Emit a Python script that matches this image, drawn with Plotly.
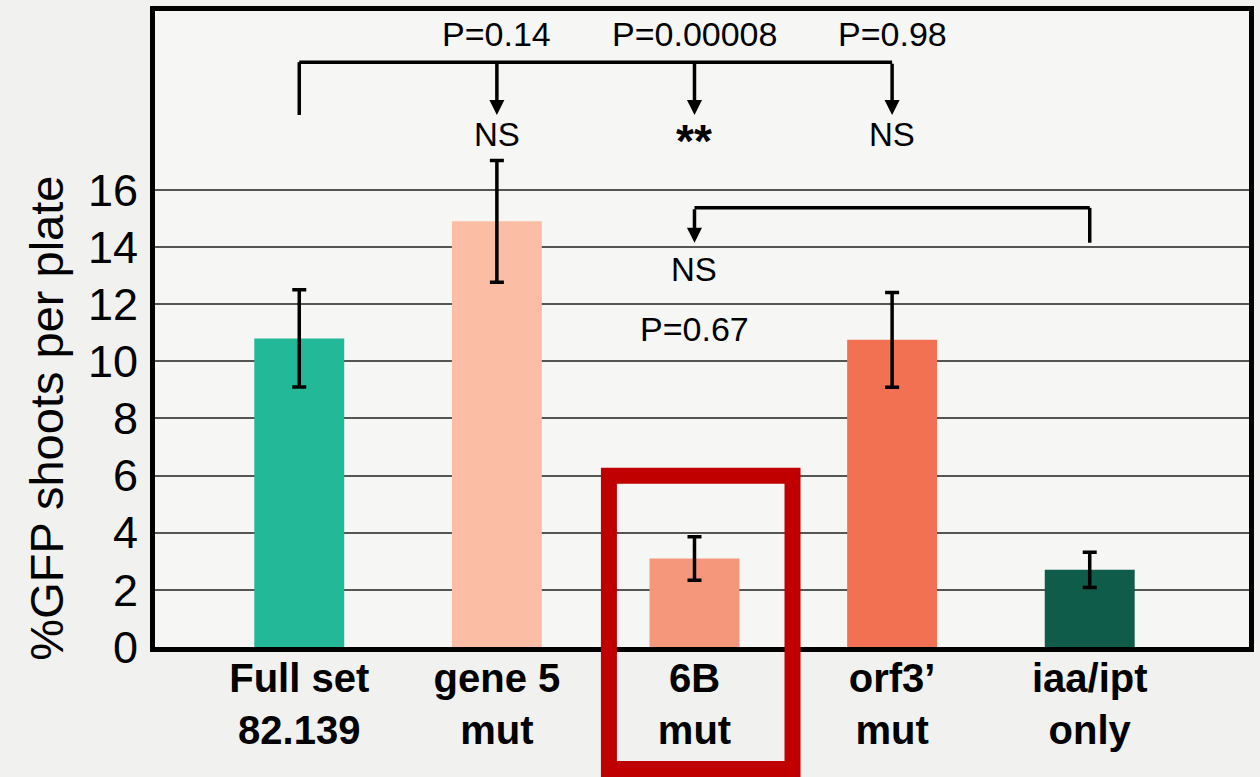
import plotly.graph_objects as go

# ---- data ----
categories = ["Full set<br>82.139", "gene 5<br>mut", "6B<br>mut", "orf3’<br>mut", "iaa/ipt<br>only"]
values = [10.8, 14.9, 3.1, 10.75, 2.7]
errors = [1.7, 2.13, 0.76, 1.66, 0.62]
colors = ["#23B898", "#FBBDA4", "#F4977A", "#F27153", "#0E5C49"]
ytick_vals = [0, 2, 4, 6, 8, 10, 12, 14, 16]
y_title = "%GFP shoots per plate"

# comparisons: (to index, p-label, result)
top_compare = [(1, "P=0.14", "NS"), (2, "P=0.00008", "**"), (3, "P=0.98", "NS")]
top_from = 0
second_compare = (4, 2, "P=0.67", "NS")

# levels (in data units)
top_bracket_y = 20.47
top_tip_y = 18.62
top_p_y = 21.45
top_res_y = 17.94
star_y = 17.72
sec_bracket_y = 15.37
sec_tip_y = 14.15
sec_res_y = 13.23
sec_p_y = 11.12

XR = [-0.730, 4.806]
YR = [0, 22.26]

x = list(range(len(categories)))

fig = go.Figure()
fig.add_trace(go.Bar(
    x=x, y=values, width=0.455,
    marker=dict(color=colors, line=dict(width=0)),
    error_y=dict(type="data", array=errors, visible=True, color="black", thickness=3.5, width=7),
))

LW = 3.5
FONT = "Liberation Sans, Arial"
# top bracket
last = top_compare[-1][0]
fig.add_shape(type="line", x0=top_from, x1=top_from, y0=top_tip_y, y1=top_bracket_y,
              line=dict(color="black", width=LW), xref="x", yref="y")
fig.add_shape(type="line", x0=top_from, x1=last, y0=top_bracket_y, y1=top_bracket_y,
              line=dict(color="black", width=LW), xref="x", yref="y")
for idx, p, res in top_compare:
    fig.add_annotation(x=idx, y=top_tip_y, ax=idx, ay=top_bracket_y, axref="x", ayref="y",
                       xref="x", yref="y", text="", showarrow=True, arrowhead=2,
                       arrowwidth=LW, arrowsize=0.86, arrowcolor="black")
    fig.add_annotation(x=idx, y=top_p_y, text=p, showarrow=False,
                       font=dict(family=FONT, size=34, color="black"))
    if res == "**":
        fig.add_annotation(x=idx, y=star_y, text="<b>**</b>", showarrow=False,
                           font=dict(family=FONT, size=46, color="black"))
    else:
        fig.add_annotation(x=idx, y=top_res_y, text=res, showarrow=False,
                           font=dict(family=FONT, size=33, color="black"))

# second bracket
a, b, p2, r2 = second_compare
fig.add_shape(type="line", x0=a, x1=a, y0=sec_tip_y, y1=sec_bracket_y,
              line=dict(color="black", width=LW), xref="x", yref="y")
fig.add_shape(type="line", x0=b, x1=a, y0=sec_bracket_y, y1=sec_bracket_y,
              line=dict(color="black", width=LW), xref="x", yref="y")
fig.add_annotation(x=b, y=sec_tip_y, ax=b, ay=sec_bracket_y, axref="x", ayref="y",
                   xref="x", yref="y", text="", showarrow=True, arrowhead=2,
                   arrowwidth=LW, arrowsize=0.86, arrowcolor="black")
fig.add_annotation(x=b, y=sec_res_y, text=r2, showarrow=False,
                   font=dict(family=FONT, size=33, color="black"))
fig.add_annotation(x=b, y=sec_p_y, text=p2, showarrow=False,
                   font=dict(family=FONT, size=34, color="black"))

# highlight box around 6B (data units -> paper so it is not clipped)
hl_x0, hl_x1 = 1.567, 2.496
hl_y0, hl_y1 = -4.27, 5.99
def xp(v):
    return (v - XR[0]) / (XR[1] - XR[0])
def yp(v):
    return (v - YR[0]) / (YR[1] - YR[0])
fig.add_shape(type="rect", xref="paper", yref="paper",
              x0=xp(hl_x0), x1=xp(hl_x1), y0=yp(hl_y0), y1=yp(hl_y1),
              line=dict(color="#C00000", width=16), fillcolor="rgba(0,0,0,0)", layer="above")

# y-axis title (placed as rotated text, lower than plot centre as in the original)
fig.add_annotation(xref="paper", yref="paper", x=-0.1, y=0.36, text=y_title, textangle=-90,
                   xanchor="center", yanchor="middle",
                   showarrow=False, font=dict(family=FONT, size=47, color="black"))

fig.update_layout(
    width=1260, height=777,
    margin=dict(l=155, r=6, t=11, b=130),
    paper_bgcolor="#F1F1EF",
    plot_bgcolor="#F6F6F4",
    showlegend=False,
    font=dict(family=FONT, color="black"),
    xaxis=dict(range=XR, tickvals=x, ticktext=["<b>" + c.replace("<br>", "</b><br><b>") + "</b>" for c in categories],
               tickfont=dict(size=40, family=FONT, color="black"),
               showgrid=False, zeroline=False, showline=True, mirror=True,
               linecolor="black", linewidth=5, ticks="", ticklabelstandoff=-8),
    yaxis=dict(range=YR, tickvals=ytick_vals, tickfont=dict(size=45, color="black"),
               showgrid=True, gridcolor="#555555", gridwidth=1.6, zeroline=False,
               showline=True, mirror=True, linecolor="black", linewidth=5, ticks="",
               ticklabelstandoff=3),
)

fig.write_html("out.html", config={"displayModeBar": False},
               post_script="document.body.style.margin='0';document.body.style.overflow='hidden';")
